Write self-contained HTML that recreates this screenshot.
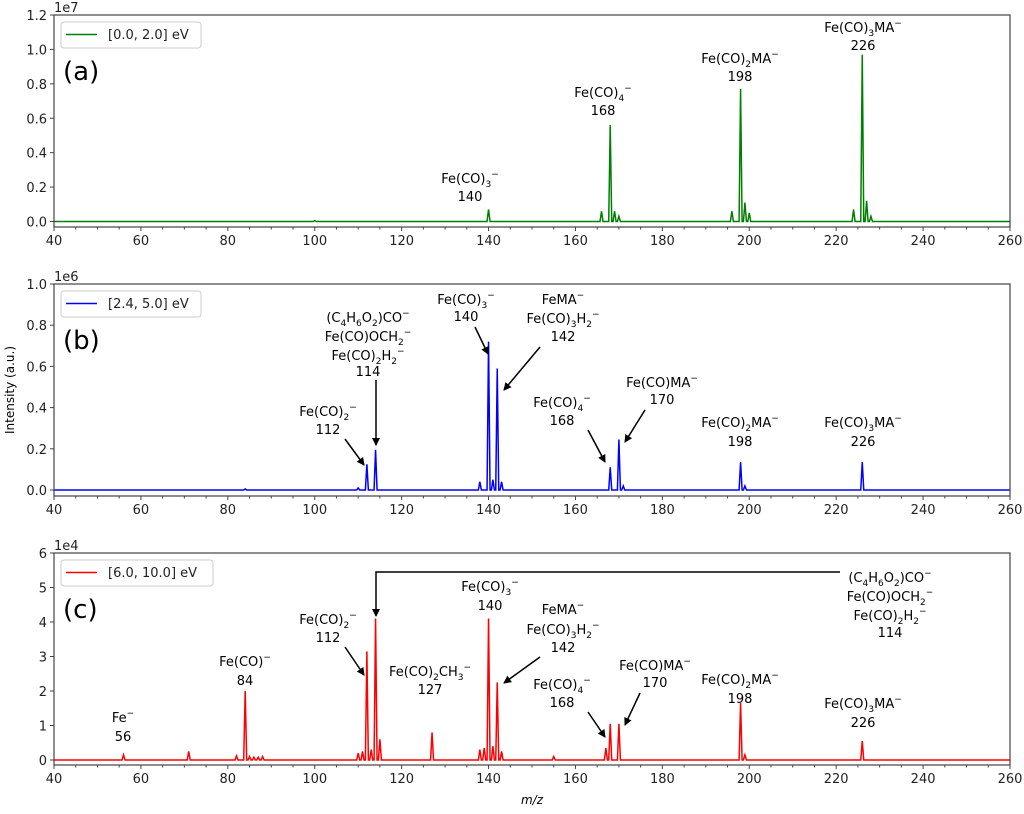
<!DOCTYPE html>
<html><head><meta charset="utf-8"><style>
body{margin:0;background:#fff}
svg{font-family:"DejaVu Sans","Liberation Sans",sans-serif;font-size:13px}
.lab{text-anchor:middle;fill:#000}
.tick{font-size:13px;fill:#222}
</style></head><body>
<svg id="c" width="1024" height="809" xmlns="http://www.w3.org/2000/svg">
<defs><marker id="ah" markerWidth="8" markerHeight="8" refX="7" refY="4" orient="auto" markerUnits="userSpaceOnUse"><path d="M0,0 L8,4 L0,8 z" fill="#000"/></marker></defs>
<g id="plots"></g>
<g class="lab">
<!-- panel a -->
<text x="470" y="183">Fe(CO)<tspan font-size="9" dy="4">3</tspan><tspan font-size="9" dy="-10">−</tspan></text><text x="470" y="201">140</text>
<text x="603" y="97">Fe(CO)<tspan font-size="9" dy="4">4</tspan><tspan font-size="9" dy="-10">−</tspan></text><text x="603" y="115">168</text>
<text x="740" y="63">Fe(CO)<tspan font-size="9" dy="4">2</tspan><tspan dy="-4">MA</tspan><tspan font-size="9" dy="-6">−</tspan></text><text x="740" y="81">198</text>
<text x="863" y="32">Fe(CO)<tspan font-size="9" dy="4">3</tspan><tspan dy="-4">MA</tspan><tspan font-size="9" dy="-6">−</tspan></text><text x="863" y="50">226</text>
<!-- panel b -->
<text x="368" y="322">(C<tspan font-size="9" dy="4">4</tspan><tspan dy="-4">H</tspan><tspan font-size="9" dy="4">6</tspan><tspan dy="-4">O</tspan><tspan font-size="9" dy="4">2</tspan><tspan dy="-4">)CO</tspan><tspan font-size="9" dy="-6">−</tspan></text>
<text x="368" y="341">Fe(CO)OCH<tspan font-size="9" dy="4">2</tspan><tspan font-size="9" dy="-10">−</tspan></text>
<text x="368" y="360">Fe(CO)<tspan font-size="9" dy="4">2</tspan><tspan dy="-4">H</tspan><tspan font-size="9" dy="4">2</tspan><tspan font-size="9" dy="-10">−</tspan></text>
<text x="368" y="376">114</text>
<text x="328" y="416">Fe(CO)<tspan font-size="9" dy="4">2</tspan><tspan font-size="9" dy="-10">−</tspan></text><text x="328" y="434">112</text>
<text x="466" y="304">Fe(CO)<tspan font-size="9" dy="4">3</tspan><tspan font-size="9" dy="-10">−</tspan></text><text x="466" y="321">140</text>
<text x="563" y="304">FeMA<tspan font-size="9" dy="-6">−</tspan></text>
<text x="563" y="323">Fe(CO)<tspan font-size="9" dy="4">3</tspan><tspan dy="-4">H</tspan><tspan font-size="9" dy="4">2</tspan><tspan font-size="9" dy="-10">−</tspan></text><text x="563" y="341">142</text>
<text x="562" y="407">Fe(CO)<tspan font-size="9" dy="4">4</tspan><tspan font-size="9" dy="-10">−</tspan></text><text x="562" y="425">168</text>
<text x="662" y="387">Fe(CO)MA<tspan font-size="9" dy="-6">−</tspan></text><text x="662" y="404">170</text>
<text x="740" y="427">Fe(CO)<tspan font-size="9" dy="4">2</tspan><tspan dy="-4">MA</tspan><tspan font-size="9" dy="-6">−</tspan></text><text x="740" y="446">198</text>
<text x="863" y="427">Fe(CO)<tspan font-size="9" dy="4">3</tspan><tspan dy="-4">MA</tspan><tspan font-size="9" dy="-6">−</tspan></text><text x="863" y="446">226</text>
<!-- panel c -->
<text x="123" y="722">Fe<tspan font-size="9" dy="-6">−</tspan></text><text x="123" y="741">56</text>
<text x="245" y="666">Fe(CO)<tspan font-size="9" dy="-6">−</tspan></text><text x="245" y="685">84</text>
<text x="328" y="624">Fe(CO)<tspan font-size="9" dy="4">2</tspan><tspan font-size="9" dy="-10">−</tspan></text><text x="328" y="642">112</text>
<text x="890" y="582">(C<tspan font-size="9" dy="4">4</tspan><tspan dy="-4">H</tspan><tspan font-size="9" dy="4">6</tspan><tspan dy="-4">O</tspan><tspan font-size="9" dy="4">2</tspan><tspan dy="-4">)CO</tspan><tspan font-size="9" dy="-6">−</tspan></text>
<text x="890" y="601">Fe(CO)OCH<tspan font-size="9" dy="4">2</tspan><tspan font-size="9" dy="-10">−</tspan></text>
<text x="890" y="620">Fe(CO)<tspan font-size="9" dy="4">2</tspan><tspan dy="-4">H</tspan><tspan font-size="9" dy="4">2</tspan><tspan font-size="9" dy="-10">−</tspan></text>
<text x="890" y="637">114</text>
<text x="430" y="676">Fe(CO)<tspan font-size="9" dy="4">2</tspan><tspan dy="-4">CH</tspan><tspan font-size="9" dy="4">3</tspan><tspan font-size="9" dy="-10">−</tspan></text><text x="430" y="694">127</text>
<text x="490" y="591">Fe(CO)<tspan font-size="9" dy="4">3</tspan><tspan font-size="9" dy="-10">−</tspan></text><text x="490" y="610">140</text>
<text x="563" y="614">FeMA<tspan font-size="9" dy="-6">−</tspan></text>
<text x="563" y="634">Fe(CO)<tspan font-size="9" dy="4">3</tspan><tspan dy="-4">H</tspan><tspan font-size="9" dy="4">2</tspan><tspan font-size="9" dy="-10">−</tspan></text><text x="563" y="652">142</text>
<text x="562" y="689">Fe(CO)<tspan font-size="9" dy="4">4</tspan><tspan font-size="9" dy="-10">−</tspan></text><text x="562" y="707">168</text>
<text x="655" y="670">Fe(CO)MA<tspan font-size="9" dy="-6">−</tspan></text><text x="655" y="687">170</text>
<text x="740" y="684">Fe(CO)<tspan font-size="9" dy="4">2</tspan><tspan dy="-4">MA</tspan><tspan font-size="9" dy="-6">−</tspan></text><text x="740" y="703">198</text>
<text x="863" y="708">Fe(CO)<tspan font-size="9" dy="4">3</tspan><tspan dy="-4">MA</tspan><tspan font-size="9" dy="-6">−</tspan></text><text x="863" y="727">226</text>
</g>
<g stroke="#000" stroke-width="1.5" fill="none">
<line x1="376" y1="380" x2="376" y2="445" marker-end="url(#ah)"/>
<line x1="345" y1="439" x2="364" y2="465" marker-end="url(#ah)"/>
<line x1="475" y1="327" x2="488" y2="354" marker-end="url(#ah)"/>
<line x1="540" y1="347" x2="504" y2="390" marker-end="url(#ah)"/>
<line x1="588" y1="430" x2="605" y2="462" marker-end="url(#ah)"/>
<line x1="645" y1="410" x2="625" y2="442" marker-end="url(#ah)"/>
<polyline points="840,572 376,572 376,616" marker-end="url(#ah)"/>
<line x1="345" y1="647" x2="364" y2="675" marker-end="url(#ah)"/>
<line x1="540" y1="657" x2="504" y2="683" marker-end="url(#ah)"/>
<line x1="588" y1="712" x2="605" y2="737" marker-end="url(#ah)"/>
<line x1="640" y1="693" x2="625" y2="725" marker-end="url(#ah)"/>
</g>
<text x="14" y="390" transform="rotate(-90 14 390)" text-anchor="middle" font-size="12">Intensity (a.u.)</text>
<text x="532" y="804" text-anchor="middle" font-style="italic" font-size="12">m/z</text>
</svg>
<script>
const xTicks=[40,60,80,100,120,140,160,180,200,220,240,260];
const aMz=[100,140,166,168,169,170,196,198,199,200,224,226,227,228];
const aVal=[0.005,0.07,0.06,0.56,0.06,0.03,0.06,0.77,0.11,0.05,0.07,0.97,0.12,0.03];
const bMz=[84,110,112,114,138,140,141,142,143,168,170,171,198,199,226];
const bVal=[0.005,0.01,0.125,0.195,0.04,0.72,0.05,0.59,0.04,0.11,0.245,0.02,0.135,0.02,0.135];
const cMz=[56,71,82,84,85,86,87,88,110,111,112,113,114,115,127,138,139,140,141,142,143,155,167,168,170,198,199,226];
const cVal=[0.15,0.25,0.12,2.0,0.1,0.08,0.08,0.1,0.2,0.25,3.15,0.3,4.1,0.6,0.8,0.3,0.35,4.1,0.4,2.25,0.25,0.1,0.35,1.05,1.05,1.65,0.15,0.55];
const aTicks=[0,0.2,0.4,0.6,0.8,1.0,1.2], bTicks=[0,0.2,0.4,0.6,0.8,1.0], cTicks=[0,1,2,3,4,5,6];
const panels=[
 {name:'a',mz:aMz,val:aVal,ticks:aTicks,fmt:1,top:15,zero:221.5,bot:227,ymax:1.2,exp:'1e7',color:'#008000',leg:'[0.0, 2.0] eV',lw:140},
 {name:'b',mz:bMz,val:bVal,ticks:bTicks,fmt:1,top:284,zero:490,bot:496,ymax:1.0,exp:'1e6',color:'#0000ff',leg:'[2.4, 5.0] eV',lw:140},
 {name:'c',mz:cMz,val:cVal,ticks:cTicks,fmt:0,top:553,zero:760,bot:765,ymax:6,exp:'1e4',color:'#ff0000',leg:'[6.0, 10.0] eV',lw:152}];
const NS='http://www.w3.org/2000/svg',L=54,R=1010;
const X=m=>L+(m-40)*(R-L)/220;
const g=document.getElementById('plots');
function el(t,a,p){const e=document.createElementNS(NS,t);for(const k in a)e.setAttribute(k,a[k]);(p||g).appendChild(e);return e;}
panels.forEach(p=>{
 const Y=v=>p.zero-v*(p.zero-p.top)/p.ymax;
 const grp=el('g',{});
 
 
 // baseline + peaks
 let d='M'+L+','+Y(0);
 p.mz.forEach((m,i)=>{d+=' L'+(X(m)-1.5)+','+Y(0)+' L'+X(m)+','+Y(p.val[i])+' L'+(X(m)+1.5)+','+Y(0);});
 d+=' L'+R+','+Y(0);
 const s=el('path',{d:d,stroke:p.color,'stroke-width':1.5,fill:'none','stroke-linejoin':'miter'},grp);
 
 
 const fr=el('rect',{x:L,y:p.top,width:R-L,height:p.bot-p.top,fill:'none',stroke:'#444','stroke-width':1.2},grp);
 
 
 p.ticks.forEach(t=>{const y=Y(t);el('line',{x1:L-4,x2:L,y1:y,y2:y,stroke:'#444'},grp);
  const tx=el('text',{x:L-7,y:y+5,'text-anchor':'end',class:'tick'},grp);tx.textContent=t.toFixed(p.fmt);
  
  });
 for(let m=40;m<=260;m+=5){const big=m%20==0;el('line',{x1:X(m),x2:X(m),y1:p.bot,y2:p.bot+(big?4:2.5),stroke:'#444'},grp);}
 xTicks.forEach(m=>{const tx=el('text',{x:X(m),y:p.bot+18,'text-anchor':'middle',class:'tick'},grp);tx.textContent=m;
  
  });
 const ex=el('text',{x:L,y:p.top-3,class:'tick'},grp);ex.textContent=p.exp;
 
 
 const lg=el('g',{},grp);
 
 
 el('rect',{x:61,y:p.top+7,width:p.lw,height:26,rx:3,fill:'#fff',stroke:'#ccc'},lg);
 el('line',{x1:66,x2:97,y1:p.top+19.5,y2:p.top+19.5,stroke:p.color,'stroke-width':1.5},lg);
 const lt=el('text',{x:108,y:p.top+24,fill:'#222'},lg);lt.textContent=p.leg;
 const pl=el('text',{x:63,y:p.top+65,'font-size':26},grp);pl.textContent='('+p.name+')';
 
 
});
</script>
</body></html>
